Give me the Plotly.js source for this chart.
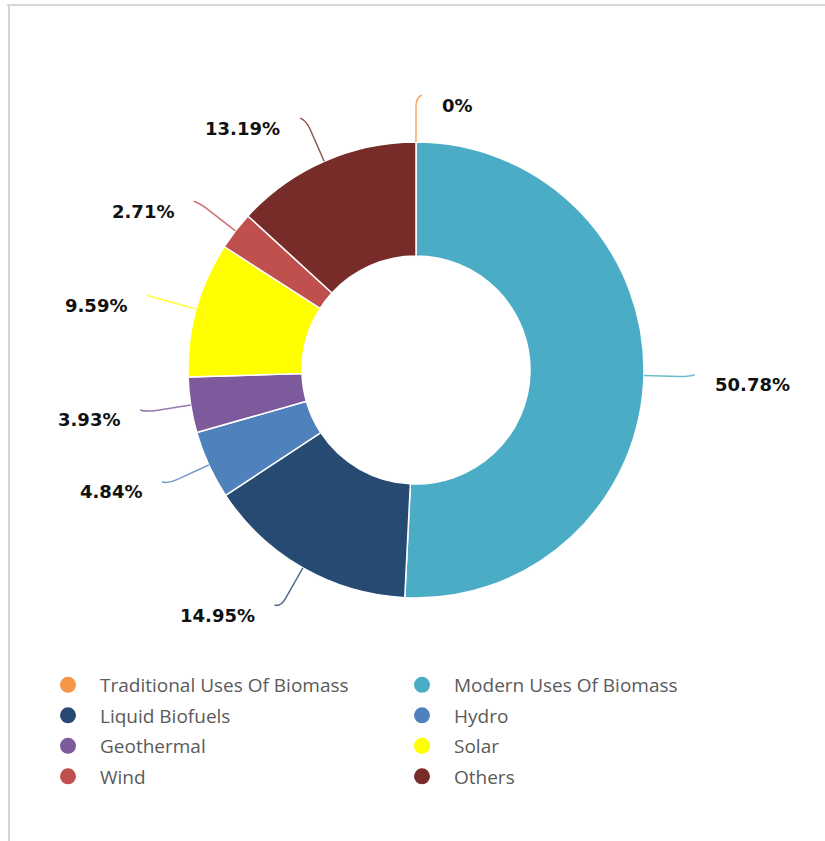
<!DOCTYPE html>
<html>
<head>
<meta charset="utf-8">
<script src="https://cdn.plot.ly/plotly-3.0.1.min.js"></script>
<style>
  html, body { margin: 0; padding: 0; background: #fff; }
  #chart { width: 825px; height: 841px; }
</style>
</head>
<body>
<div id="chart"></div>
<script>
// ---- Data ----
const categories = [
  "Traditional Uses Of Biomass",
  "Modern Uses Of Biomass",
  "Liquid Biofuels",
  "Hydro",
  "Geothermal",
  "Solar",
  "Wind",
  "Others"
];
const shares = [0, 50.78, 14.95, 4.84, 3.93, 9.59, 2.71, 13.19];
const colors = ["#F79646", "#4BACC6", "#274A72", "#4F81BD", "#7D5A9C", "#FFFF00", "#C0504D", "#772C2A"];

// ---- Layout geometry ----
const W = 825, H = 841;
const CX = 416, CY = 370, R = 228;
const px = x => x / W;
const py = y => 1 - y / H;

const pieTrace = {
  type: "pie",
  labels: categories,
  values: shares,
  marker: { colors: colors, line: { color: "#ffffff", width: 1.5 } },
  hole: 0.5,
  sort: false,
  direction: "clockwise",
  rotation: 0,
  textinfo: "none",
  hoverinfo: "label+percent",
  showlegend: false,
  domain: { x: [px(CX - R), px(CX + R)], y: [py(CY + R), py(CY - R)] }
};

// legend entries (circle markers) drawn by dummy scatter traces, two columns
const legendTraces = categories.map((c, i) => ({
  type: "scatter",
  mode: "markers",
  x: [null], y: [null],
  name: c,
  legend: i % 2 === 0 ? "legend" : "legend2",
  legendgroup: "g" + i,
  marker: { color: colors[i], size: 16, symbol: "circle" },
  showlegend: true,
  hoverinfo: "skip"
}));

// ---- labels + connectors computed from the data ----
const total = shares.reduce((a, b) => a + b, 0);
const annotations = [];
const shapes = [];
let cum = 0;
shares.forEach((v, i) => {
  const mid = (cum + v / 2) / total * 2 * Math.PI;
  cum += v;
  const s = Math.sin(mid), c = Math.cos(mid);
  const right = s >= -1e-9;
  const dir = right ? 1 : -1;
  const pt = r => [CX + r * s, CY - r * c];
  const a = pt(R), b = pt(R + 35), q = pt(R + 45);
  const e = [q[0] + dir * 6, q[1] - 2];
  shapes.push({
    type: "path", xref: "paper", yref: "paper",
    path: `M ${px(a[0])},${py(a[1])} L ${px(b[0])},${py(b[1])} Q ${px(q[0])},${py(q[1])} ${px(e[0])},${py(e[1])}`,
    line: { color: colors[i], width: 1.5 }, opacity: 0.8
  });
  annotations.push({
    xref: "paper", yref: "paper",
    x: px(e[0] + dir * 18), y: py(e[1] + 10),
    xanchor: right ? "left" : "right", yanchor: "middle",
    text: "<b>" + v + "%</b>", showarrow: false,
    font: { family: "DejaVu Sans", size: 18, color: "#111" }
  });
});

// frame
shapes.push({ type: "line", xref: "paper", yref: "paper", x0: px(7), x1: 1, y0: py(5), y1: py(5), line: { color: "#d6d6d6", width: 2 } });
shapes.push({ type: "line", xref: "paper", yref: "paper", x0: px(9), x1: px(9), y0: py(5), y1: 0, line: { color: "#d6d6d6", width: 2 } });

const legendBase = {
  orientation: "v",
  xanchor: "left",
  y: py(666), yanchor: "top",
  itemwidth: 54,
  tracegroupgap: 2.8,
  font: { family: "Open Sans", size: 19, color: "#5a5a5a" },
  bgcolor: "rgba(0,0,0,0)"
};

const layout = {
  width: W, height: H,
  margin: { l: 0, r: 0, t: 0, b: 0 },
  paper_bgcolor: "#ffffff", plot_bgcolor: "#ffffff",
  xaxis: { visible: false }, yaxis: { visible: false },
  showlegend: true,
  legend: Object.assign({}, legendBase, { x: px(36) }),
  legend2: Object.assign({}, legendBase, { x: px(390) }),
  annotations: annotations,
  shapes: shapes
};

Plotly.newPlot("chart", [pieTrace, ...legendTraces], layout, { displayModeBar: false, staticPlot: true });
</script>
</body>
</html>
